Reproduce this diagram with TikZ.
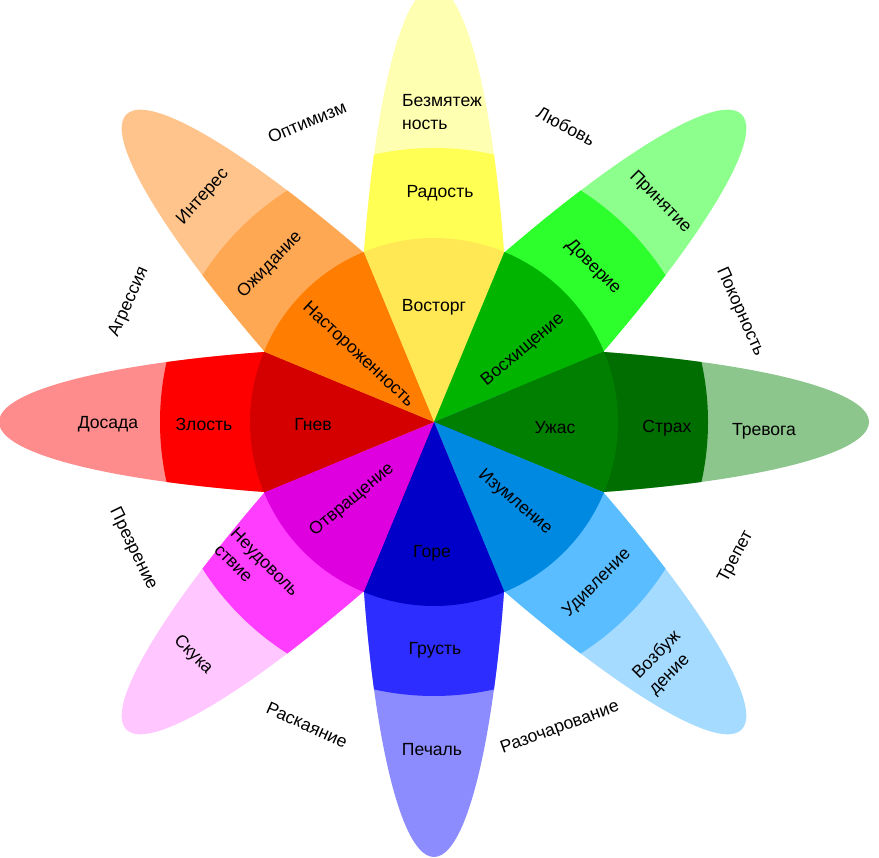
\documentclass[tikz,border=0pt]{standalone}
\usepackage{fontspec}
\setmainfont{Liberation Sans}
\usepackage{tikz}
\definecolor{joyout}{HTML}{FFFFB1}
\definecolor{joymid}{HTML}{FFFF54}
\definecolor{joyin}{HTML}{FFE854}
\definecolor{trustout}{HTML}{8CFF8C}
\definecolor{trustmid}{HTML}{2DFF2D}
\definecolor{trustin}{HTML}{00B400}
\definecolor{fearout}{HTML}{8CC68C}
\definecolor{fearmid}{HTML}{006E00}
\definecolor{fearin}{HTML}{007F00}
\definecolor{surpout}{HTML}{A5DBFF}
\definecolor{surpmid}{HTML}{59BDFF}
\definecolor{surpin}{HTML}{0089E0}
\definecolor{sadout}{HTML}{8C8CFF}
\definecolor{sadmid}{HTML}{2D2DFF}
\definecolor{sadin}{HTML}{0000C8}
\definecolor{disgout}{HTML}{FFC6FF}
\definecolor{disgmid}{HTML}{FF3DFF}
\definecolor{disgin}{HTML}{DE00DE}
\definecolor{angout}{HTML}{FF8C8C}
\definecolor{angmid}{HTML}{FF0000}
\definecolor{angin}{HTML}{D40000}
\definecolor{antout}{HTML}{FFC48C}
\definecolor{antmid}{HTML}{FFA854}
\definecolor{antin}{HTML}{FF7D00}

\begin{document}
\begin{tikzpicture}[x=0.02cm,y=0.02cm,
  lbl/.style={font=\fontsize{10}{13}\selectfont,inner sep=1pt},
  twoline/.style={lbl,align=left}]
\path[use as bounding box] (0,0) rectangle (879,858);
\fill[white] (0,0) rectangle (879,858);

% petals: outer band, middle band clipped to r=274
\begin{scope}[shift={(434,436)}]
  \foreach \ang/\outc/\midc in {90/joyout/joymid,45/trustout/trustmid,
      0/fearout/fearmid,-45/surpout/surpmid,-90/sadout/sadmid,
      -135/disgout/disgmid,180/angout/angmid,135/antout/antmid} {
    \begin{scope}[rotate=\ang]
      \clip (0,-90) rectangle (450,90);
      \fill[\outc] (0,0) ellipse[x radius=435,y radius=76];
      \clip (0,0) circle[radius=274];
      \fill[\midc] (0,0) ellipse[x radius=435,y radius=76];
    \end{scope}
  }
  % inner wheel
  \foreach \ang/\inc in {90/joyin,45/trustin,0/fearin,-45/surpin,
      -90/sadin,-135/disgin,180/angin,135/antin}
    \fill[\inc] (0,0) -- (\ang-22.5:184)
      arc[start angle=\ang-22.5,end angle=\ang+22.5,radius=184] -- cycle;
\end{scope}

% joy
\node[twoline] (serenity) at (442,746) {Безмятеж\\ность};
\node[lbl] (joy) at (440,665) {Радость};
\node[lbl] (ecstasy) at (434,551) {Восторг};
% trust
\node[lbl,rotate=-45] (acceptance) at (660,656) {Принятие};
\node[lbl,rotate=-45] (trust) at (593,591) {Доверие};
\node[lbl,rotate=40] (admiration) at (523,508) {Восхищение};
% fear
\node[lbl] (terror) at (555,430) {Ужас};
\node[lbl] (fear) at (667,430) {Страх};
\node[lbl] (apprehension) at (764,427) {Тревога};
% surprise
\node[lbl,rotate=-40] (amazement) at (515,356) {Изумление};
\node[lbl,rotate=45] (surprise) at (597,275) {Удивление};
\node[twoline,rotate=45] (distraction) at (665,195) {Возбуж\\дение};
% sadness
\node[lbl] (grief) at (432,305) {Горе};
\node[lbl] (sadness) at (435,208) {Грусть};
\node[lbl] (pensiveness) at (432,108) {Печаль};
% disgust
\node[lbl,rotate=40] (loathing) at (352,358) {Отвращение};
\node[twoline,rotate=-45] (disgust) at (257,288) {Неудоволь\\ствие};
\node[lbl,rotate=-45] (boredom) at (193,203) {Скука};
% anger
\node[lbl] (rage) at (313,433) {Гнев};
\node[lbl] (anger) at (204,434) {Злость};
\node[lbl] (annoyance) at (108,434) {Досада};
% anticipation
\node[lbl,rotate=-43] (vigilance) at (358,503) {Настороженность};
\node[lbl,rotate=46] (anticipation) at (270,593) {Ожидание};
\node[lbl,rotate=48] (interest) at (203,661) {Интерес};

% dyads between petals
\node[lbl,rotate=23] (optimism) at (307,736) {Оптимизм};
\node[lbl,rotate=-28] (love) at (566,732) {Любовь};
\node[lbl,rotate=-66] (submission) at (740,546) {Покорность};
\node[lbl,rotate=62] (awe) at (736,301) {Трепет};
\node[lbl,rotate=20] (disapproval) at (560,130) {Разочарование};
\node[lbl,rotate=-24] (remorse) at (307,133) {Раскаяние};
\node[lbl,rotate=-64] (contempt) at (133,309) {Презрение};
\node[lbl,rotate=66] (aggressiveness) at (129,556) {Агрессия};
\end{tikzpicture}
\end{document}
